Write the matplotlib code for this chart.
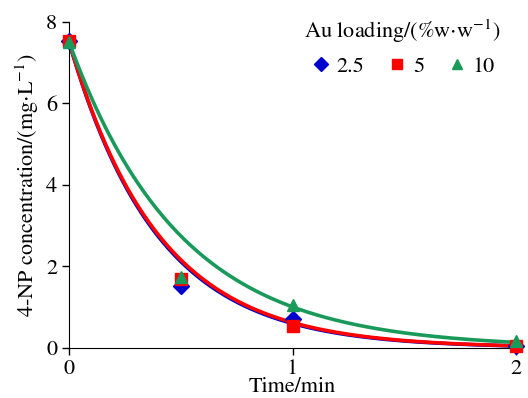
import numpy as np
import matplotlib
matplotlib.use("Agg")
import matplotlib.pyplot as plt

plt.rcParams["font.family"] = ["STIXGeneral", "DejaVu Serif"]
plt.rcParams["mathtext.fontset"] = "stix"

# measured points
time_min = [0, 0.5, 1, 2]
conc_25 = [7.53, 1.52, 0.70, 0.05]
conc_5 = [7.53, 1.68, 0.53, 0.05]
conc_10 = [7.50, 1.73, 1.05, 0.16]

# fitted first-order curves C = C0*exp(-k t)
c0 = 7.5
k_fit = {"2.5": 2.53, "5": 2.49, "10": 2.01}

labels = ["2.5", "5", "10"]
colors = ["#0000cc", "#ff0000", "#1a9a5a"]
markers = ["D", "s", "^"]
msizes = [8, 8, 9]

fig = plt.figure(figsize=(5.28, 3.98), dpi=100)
ax = fig.add_axes([0.131, 0.126, 0.846, 0.819])

t = np.linspace(0, 2, 200)
for lab, col in zip(labels, colors):
    ax.plot(t, c0 * np.exp(-k_fit[lab] * t), color=col, lw=2.6, zorder=2)

for lab, ys, col, m, ms in zip(labels, [conc_25, conc_5, conc_10], colors, markers, msizes):
    ax.plot(time_min, ys, ls="none", marker=m, color=col, ms=ms,
            label=lab, clip_on=False, zorder=3)

ax.set_xlim(0, 2)
ax.set_ylim(0, 8)
ax.set_xticks([0, 1, 2])
ax.set_yticks([0, 2, 4, 6, 8])
ax.spines["top"].set_visible(False)
ax.spines["right"].set_visible(False)
ax.tick_params(direction="out", labelsize=16, length=5, width=1)
ax.tick_params(axis="x", pad=3)
ax.set_xlabel("Time/min", fontsize=16, labelpad=-1)
ax.set_ylabel(r"4-NP concentration/(mg$\cdot$L$^{-1}$)", fontsize=16, labelpad=4)

leg = ax.legend(title=r"Au loading/(%w$\cdot$w$^{-1}$)", ncol=3, frameon=False,
                loc="upper right", bbox_to_anchor=(1.01, 1.075), fontsize=16,
                title_fontsize=16, handletextpad=0.2, columnspacing=1.0,
                handlelength=1.0, markerscale=0.85)

plt.savefig("out.png", dpi=100)
